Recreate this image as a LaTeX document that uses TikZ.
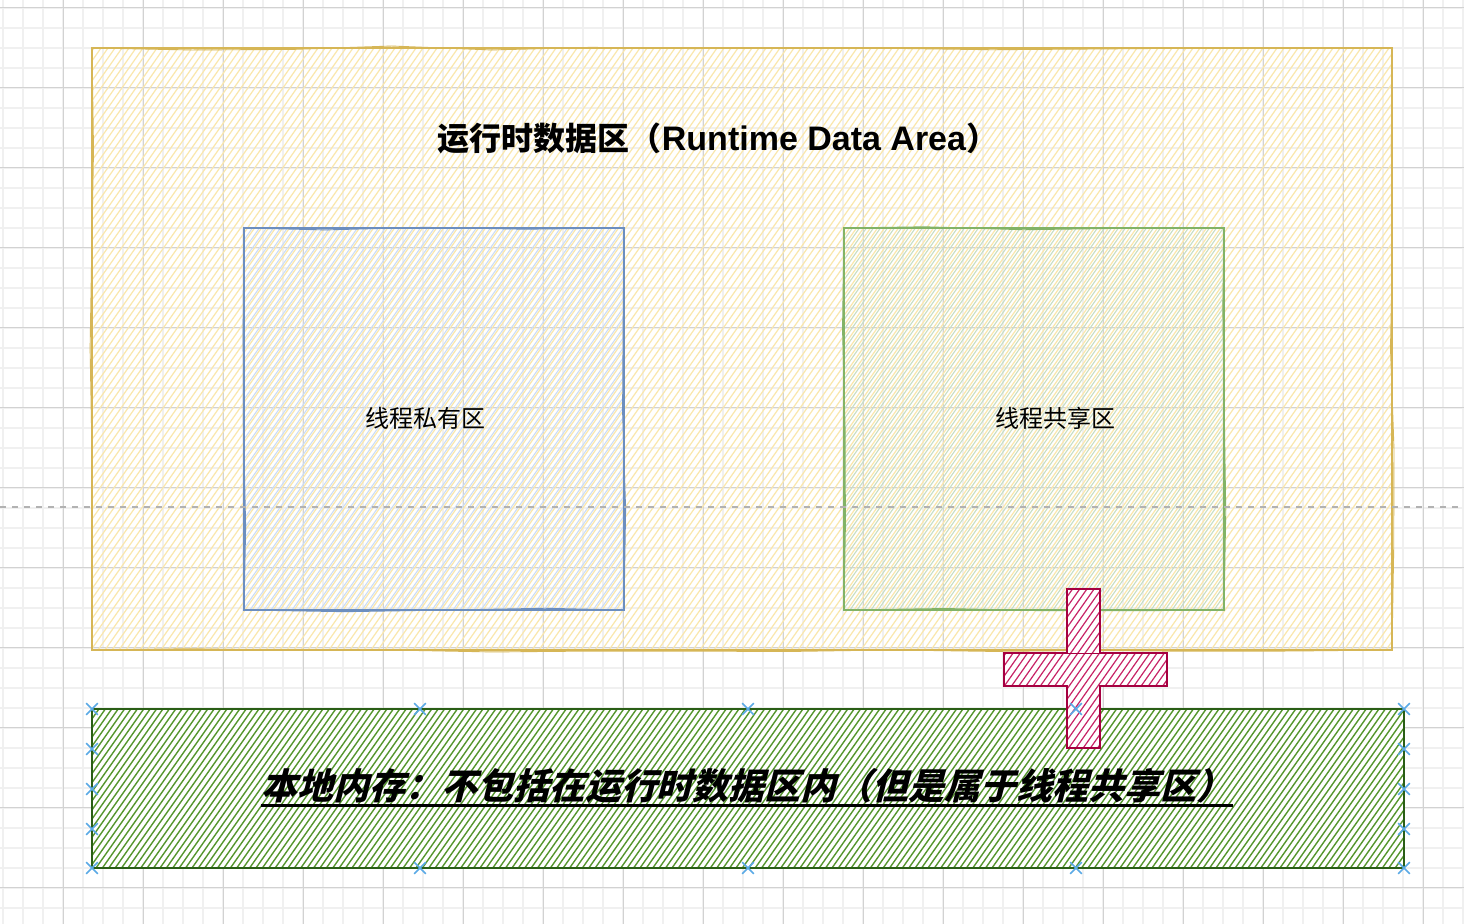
\documentclass[tikz,border=0pt]{standalone}
\usepackage{fontspec}
\setmainfont{Noto Sans CJK SC}
\newfontfamily\notefont{Noto Sans CJK SC}[FakeSlant=0.25]
\newfontfamily\latinfont{Liberation Sans}
\usetikzlibrary{shapes.misc}
\usetikzlibrary{decorations.pathmorphing}

\definecolor{runStroke}{HTML}{D6B656}
\definecolor{runHatch}{HTML}{FAE7AC}
\definecolor{privStroke}{HTML}{6C8EBF}
\definecolor{privHatch}{HTML}{CCDDF6}
\definecolor{sharedStroke}{HTML}{82B366}
\definecolor{sharedHatch}{HTML}{C8DEC4}
\definecolor{plusStroke}{HTML}{A50040}
\definecolor{plusHatch}{HTML}{C72466}
\definecolor{nativeStroke}{HTML}{2A5E16}
\definecolor{nativeHatch}{HTML}{56962E}
\definecolor{handleBlue}{HTML}{5AAAE6}
\definecolor{minorGrid}{HTML}{F0F0F0}
\definecolor{majorGrid}{HTML}{D2D2D2}

\tikzset{
  hatch/.style n args={3}{path picture={
      \foreach \n in {0,...,320}
        \draw[#1, line width=#3]
          ([xshift={(-270+\n*#2)*1pt}]path picture bounding box.south west) -- ++(260pt,370pt);}},
  sketch/.style={postaction={draw=#1, line width=0.45pt, decorate,
      decoration={random steps, segment length=50pt, amplitude=1pt}}},
  runbox/.style={draw=runStroke, line width=1pt, hatch={runHatch}{3.5}{0.6pt}, sketch=runStroke},
  privbox/.style={draw=privStroke, line width=1pt, hatch={privHatch}{3.5}{0.55pt}, sketch=privStroke},
  sharedbox/.style={draw=sharedStroke, line width=1pt, hatch={sharedHatch}{3.5}{0.55pt}, sketch=sharedStroke},
  plusbox/.style={draw=plusStroke, fill=white, line width=1.3pt, hatch={plusHatch}{3.6}{0.6pt}, sketch=plusStroke},
  nativebox/.style={draw=nativeStroke, fill=white, line width=1.3pt, hatch={nativeHatch}{3.2}{0.7pt}},
  handle/.style={cross out, draw=handleBlue, line width=0.8pt, minimum size=5pt, inner sep=0pt},
  boxlabel/.style={font=\fontsize{12}{14}\selectfont},
}

\begin{document}
\begin{tikzpicture}[x=0.5pt,y=-0.5pt]
  \useasboundingbox (0,0) rectangle (1464,924);
  \fill[white] (0,0) rectangle (1464,924);
  % grid
  \foreach \x in {3,23,...,1463} \draw[minorGrid, line width=0.6pt] (\x,0) -- (\x,924);
  \foreach \y in {8,28,...,924} \draw[minorGrid, line width=0.6pt] (0,\y) -- (1464,\y);
  \foreach \x in {63,143,...,1463} \draw[majorGrid, line width=0.5pt] (\x,0) -- (\x,924);
  \foreach \y in {8,88,...,924} \draw[majorGrid, line width=0.5pt] (0,\y) -- (1464,\y);

  % runtime data area
  \draw[runbox] (92,48) rectangle (1392,650);
  \node[font=\bfseries\fontsize{16}{19}\selectfont] (title) at (718,138)
    {运行时数据区（{\latinfont\fontsize{17}{19}\selectfont Runtime Data Area}）};

  \draw[privbox] (244,228) rectangle (624,610);
  \node[boxlabel] (privlabel) at (425,418) {线程私有区};
  \draw[sharedbox] (844,228) rectangle (1224,610);
  \node[boxlabel] (sharedlabel) at (1055,418) {线程共享区};

  \draw[gray!60, dashed, line width=0.6pt] (0,507) -- (1464,507);

  % native memory
  \draw[nativebox] (92,709) rectangle (1404,868);
  \node[font=\notefont\bfseries\fontsize{18}{22}\selectfont, inner sep=0pt] (nativelabel) at (747,786)
    {本地内存：不包括在运行时数据区内（但是属于线程共享区）};
  \draw[line width=1.3pt] ([yshift=-3pt]nativelabel.base west) -- ([yshift=-3pt]nativelabel.base east);

  \draw[plusbox] (1067,589) -- (1100,589) -- (1100,653) -- (1167,653) -- (1167,686)
    -- (1100,686) -- (1100,748) -- (1067,748) -- (1067,686) -- (1004,686)
    -- (1004,653) -- (1067,653) -- cycle;

  % selection handles
  \foreach \x in {92,420,748,1076,1404} {
    \node[handle] (top-\x) at (\x,709) {};
    \node[handle] (bot-\x) at (\x,868) {};
  }
  \foreach \y in {749,789,829} {
    \node[handle] (left-\y) at (92,\y) {};
    \node[handle] (right-\y) at (1404,\y) {};
  }
\end{tikzpicture}
\end{document}
